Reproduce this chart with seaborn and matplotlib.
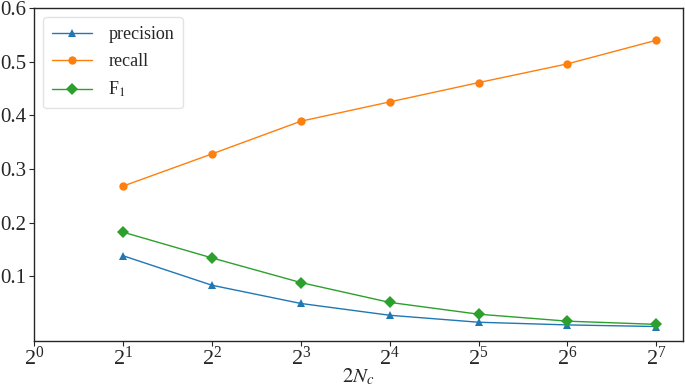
import pandas as pd
import matplotlib
matplotlib.use("Agg")
import matplotlib.pyplot as plt
import seaborn as sns

# Werte
n_clusters = [2, 4, 8, 16, 32, 64, 128]
precision = [0.138, 0.083, 0.049, 0.027, 0.014, 0.009, 0.006]
recall = [0.268, 0.328, 0.389, 0.425, 0.461, 0.496, 0.540]
f1 = [0.182, 0.134, 0.088, 0.051, 0.029, 0.016, 0.010]
series_names = ["precision", "recall", "F$_1$"]

df = pd.DataFrame({
    "x": n_clusters * 3,
    "value": precision + recall + f1,
    "metric": [series_names[0]] * 7 + [series_names[1]] * 7 + [series_names[2]] * 7,
})

sns.set_style("ticks")
plt.rcParams["font.family"] = ["Liberation Serif", "DejaVu Serif"]
plt.rcParams["mathtext.fontset"] = "stix"

fig, ax = plt.subplots(figsize=(6.85, 3.86), dpi=100)
sns.lineplot(
    data=df, x="x", y="value", hue="metric", style="metric",
    markers={series_names[0]: "^", series_names[1]: "o", series_names[2]: "D"},
    dashes=False, palette=["#1f77b4", "#ff7f0e", "#2ca02c"],
    linewidth=1.0, markersize=6, markeredgewidth=0, ax=ax,
)
ax.set_xscale("log", base=2)
ax.set_xlim(left=1)
ax.set_ylim(top=0.6)
ax.set_yticks([0.1, 0.2, 0.3, 0.4, 0.5, 0.6])
ax.set_xticks([1, 2, 4, 8, 16, 32, 64, 128])
ax.tick_params(axis="y", labelsize=15, pad=2)
ax.tick_params(axis="x", labelsize=16, pad=1)
ax.set_xlabel("$2N_c$", fontsize=15, labelpad=-3)
ax.set_ylabel("")
for s in ax.spines.values():
    s.set_linewidth(1.0)

leg = ax.legend(loc="upper left", fontsize=13, frameon=True, handlelength=2.2,
                borderpad=0.5, labelspacing=0.55, handletextpad=0.9,
                borderaxespad=0.5)
leg.get_frame().set_edgecolor("#dddddd")

fig.subplots_adjust(left=0.05, right=0.997, top=0.979, bottom=0.117)
fig.savefig("out.png", dpi=100)
